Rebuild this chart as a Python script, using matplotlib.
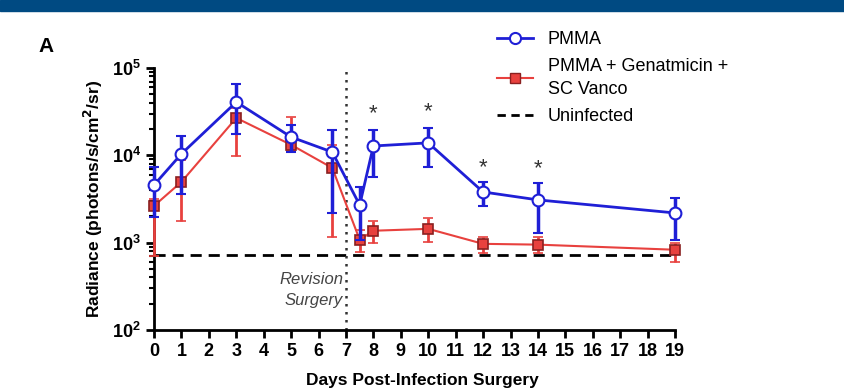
import matplotlib.pyplot as plt
import matplotlib.ticker as mticker
from matplotlib.lines import Line2D
import numpy as np

plt.rcParams['font.family'] = ['Liberation Sans', 'DejaVu Sans']

# data
days = [0, 1, 3, 5, 6.5, 7.5, 8, 10, 12, 14, 19]
pmma = [4580, 10400, 40800, 16200, 10900, 2700, 12800, 13900, 3810, 3090, 2190]
pmma_hi = [7360, 16700, 65700, 22300, 19500, 4340, 19500, 20600, 4970, 4830, 3260]
pmma_lo = [1970, 3620, 17600, 10900, 2190, 1080, 5660, 7360, 2640, 1290, 1080]

gent = [2640, 4970, 26800, 13200, 7180, 1080, 1370, 1440, 970, 950, 830]
gent_hi = [3200, 8850, 35000, 27500, 13200, 1400, 1770, 1920, 1160, 1160, 1000]
gent_lo = [700, 1770, 9840, 11500, 1160, 785, 1000, 1010, 770, 770, 600]

uninfected = 720
revision_day = 7
star_days = [8, 10, 12, 14]
star_vals = [30000, 31500, 7300, 7000]

blue = '#1f1fd6'
red = '#e8413e'

fig = plt.figure(figsize=(8.44, 3.90), dpi=100)
ax = fig.add_axes([0.1825, 0.1538, 0.6173, 0.6718])

# top banner
fig.patches.append(plt.Rectangle((0, 1 - 11/390), 1, 11/390, transform=fig.transFigure,
                                 color='#004a82', zorder=0))

def yerr(v, lo, hi):
    v = np.array(v, float)
    return [v - np.array(lo), np.array(hi) - v]

ax.axhline(uninfected, color='black', ls=(0, (4, 2.5)), lw=2, zorder=1)
ax.axvline(revision_day, color='#333333', ls=(0, (1, 2.2)), lw=1.8, zorder=1)

ax.errorbar(days, gent, yerr=yerr(gent, gent_lo, gent_hi), color=red, lw=1.5,
            marker='s', ms=7.5, mfc=red, mec='#8a2020', mew=1.2,
            elinewidth=2, capsize=3.5, capthick=2, clip_on=False, zorder=3)
ax.errorbar(days, pmma, yerr=yerr(pmma, pmma_lo, pmma_hi), color=blue, lw=2,
            marker='o', ms=8.5, mfc='white', mec=blue, mew=1.5,
            elinewidth=2.5, capsize=3.5, capthick=2.5, clip_on=False, zorder=4)

for d, v in zip(star_days, star_vals):
    ax.text(d, v, '*', ha='center', va='center', fontsize=16, color='#333333')

ax.text(6.9, 375, 'Revision', style='italic', ha='right', va='center',
        fontsize=12, color='#444444')
ax.text(6.9, 220, 'Surgery', style='italic', ha='right', va='center',
        fontsize=12, color='#444444')

ax.set_yscale('log')
ax.set_ylim(100, 100000)
ax.set_xlim(0, 19)
ax.set_xticks(range(0, 20))
ax.yaxis.set_major_locator(mticker.LogLocator(base=10, numticks=10))
ax.yaxis.set_minor_locator(mticker.LogLocator(base=10, subs=np.arange(2, 10), numticks=10))
ax.yaxis.set_minor_formatter(mticker.NullFormatter())

for s in ['top', 'right']:
    ax.spines[s].set_visible(False)
for s in ['left', 'bottom']:
    ax.spines[s].set_linewidth(2)
ax.tick_params(axis='both', which='major', width=2, length=6, labelsize=13)
ax.tick_params(axis='y', which='minor', width=1.5, length=3.5)
for lab in ax.get_xticklabels() + ax.get_yticklabels():
    lab.set_fontweight('bold')

ax.set_ylabel('Radiance (photons/s/cm$^\\mathbf{2}$/sr)', fontsize=12.5, fontweight='bold', labelpad=5)
fig.text(0.5, 1 - 381/390, 'Days Post-Infection Surgery', fontsize=12.5, fontweight='bold',
         ha='center', va='center')

fig.text(38/844, 1 - 47/390, 'A', fontsize=15, fontweight='bold', ha='left', va='center')

handles = [
    Line2D([], [], color=blue, lw=2, marker='o', ms=8, mfc='white', mec=blue, mew=1.5),
    Line2D([], [], color=red, lw=1.5, marker='s', ms=7.5, mfc=red, mec='#8a2020'),
    Line2D([], [], color='black', lw=2, ls=(0, (3, 2))),
]
labels = ['PMMA', 'PMMA + Genatmicin +\nSC Vanco', 'Uninfected']
leg = fig.legend(handles, labels, loc='upper left', bbox_to_anchor=(490/844, 1 - 24/390),
                 frameon=False, fontsize=13, handlelength=2.0, handletextpad=0.8,
                 labelspacing=0.55, borderaxespad=0)
for t in leg.get_texts():
    t.set_linespacing(1.45)

fig.savefig('out.png', dpi=100)
